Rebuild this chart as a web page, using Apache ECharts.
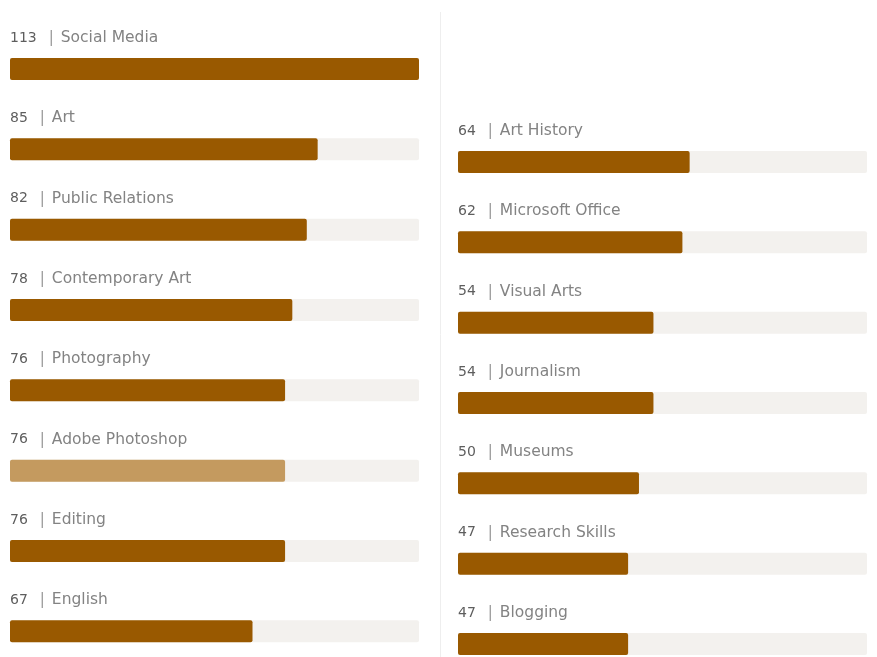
<!DOCTYPE html>
<html>
<head>
<meta charset="utf-8">
<script src="https://cdn.jsdelivr.net/npm/echarts@6/dist/echarts.min.js"></script>
<style>
  html, body { margin: 0; padding: 0; background: #ffffff; }
  #chart { width: 877px; height: 657px; }
</style>
</head>
<body>
<div id="chart"></div>
<script>
// Skill counts, split across two columns
const leftSkills = ['Social Media', 'Art', 'Public Relations', 'Contemporary Art', 'Photography', 'Adobe Photoshop', 'Editing', 'English'];
const leftCounts = [113, 85, 82, 78, 76, 76, 76, 67];
const rightSkills = ['Art History', 'Microsoft Office', 'Visual Arts', 'Journalism', 'Museums', 'Research Skills', 'Blogging'];
const rightCounts = [64, 62, 54, 54, 50, 47, 47];
const highlighted = ['Adobe Photoshop'];
const scaleMax = 113;

const BAR = '#995900';
const BAR_LIGHT = '#c49a5f';
const TRACK = '#f3f1ee';
const ROW = 80.33;   // vertical distance between rows
const FONT = 'DejaVu Sans';

function barData(names, values) {
  return values.map((v, i) => ({
    value: v,
    name: names[i],
    itemStyle: { color: highlighted.includes(names[i]) ? BAR_LIGHT : BAR }
  }));
}

const labelCfg = {
  show: true,
  position: [0, -20],
  align: 'left',
  verticalAlign: 'middle',
  fontFamily: FONT,
  formatter: p => '{v|' + p.value + '}{s||}{n|' + p.name + '}',
  rich: {
    v: { fontSize: 14, color: '#5e5e5e', fontFamily: FONT },
    s: { fontSize: 15, color: '#999999', fontFamily: FONT, padding: [0, 0, 0, 12] },
    n: { fontSize: 15.5, color: '#838383', fontFamily: FONT, padding: [0, 0, 0, 7] }
  }
};

const chart = echarts.init(document.getElementById('chart'), null, { renderer: 'canvas' });

// Category axes with boundaryGap off put the first row at the grid's top edge
// and the last row at its bottom edge, so a grid spans (n - 1) rows.
function grid(left, firstRowY, n) {
  return { left: left, width: 409, top: firstRowY, height: (n - 1) * ROW, containLabel: false };
}

function series(axis, names, values) {
  return {
    type: 'bar', xAxisIndex: axis, yAxisIndex: axis, barWidth: 22,
    data: barData(names, values),
    showBackground: true,
    backgroundStyle: { color: TRACK, borderRadius: 2 },
    itemStyle: { borderRadius: 2 },
    label: labelCfg
  };
}

chart.setOption({
  animation: false,
  backgroundColor: '#ffffff',
  grid: [grid(10, 69, leftSkills.length), grid(458, 162, rightSkills.length)],
  xAxis: [0, 1].map(i => ({
    type: 'value', gridIndex: i, min: 0, max: scaleMax, show: false
  })),
  yAxis: [
    { type: 'category', gridIndex: 0, data: leftSkills, inverse: true, boundaryGap: false, show: false },
    { type: 'category', gridIndex: 1, data: rightSkills, inverse: true, boundaryGap: false, show: false }
  ],
  series: [series(0, leftSkills, leftCounts), series(1, rightSkills, rightCounts)],
  graphic: [{
    type: 'line',
    shape: { x1: 440.5, y1: 12, x2: 440.5, y2: 657 },
    style: { stroke: '#eeeeee', lineWidth: 1 },
    silent: true
  }]
});
</script>
</body>
</html>
